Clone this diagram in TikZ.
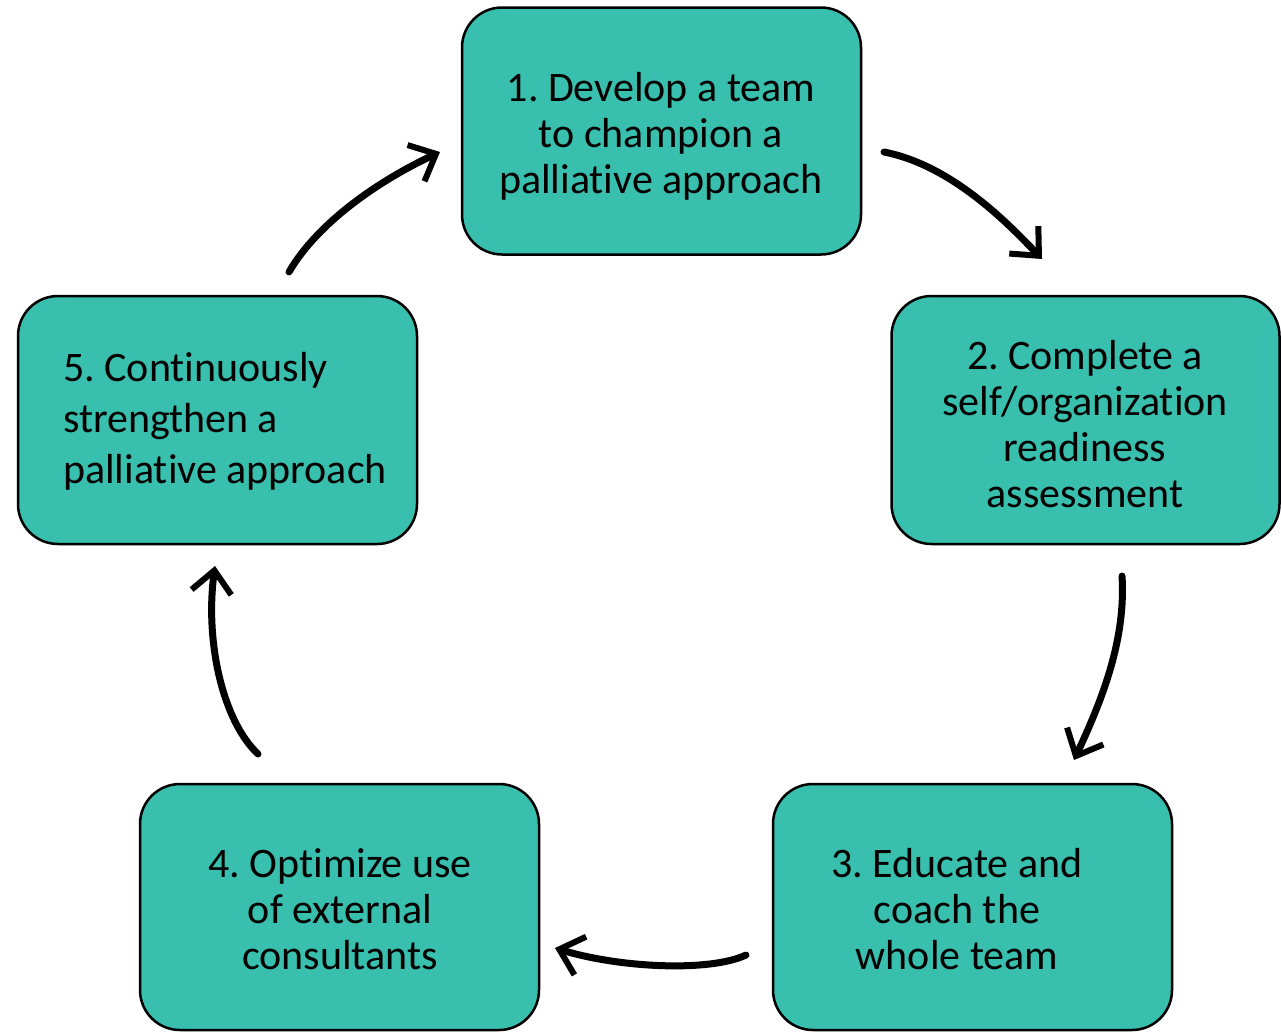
\documentclass[tikz,border=0pt]{standalone}
\usepackage{fontspec}
\setmainfont[Ligatures=NoCommon]{Carlito}
\usetikzlibrary{arrows.meta}
\definecolor{teal1}{RGB}{56,191,174}
\tikzset{
  stagebox/.style={draw=black, line width=2.5pt, fill=teal1, rounded corners=40pt, minimum width=399pt, minimum height=247pt, inner sep=0pt},
  stagetext/.style={font=\fontsize{42}{46}\selectfont, text=black, align=center, inner sep=0pt},
  brush/.style={line width=7pt, line cap=round, -{Straight Barb[length=22pt, width=40pt, line width=6pt]}}
}
\frenchspacing
\begin{document}
\begin{tikzpicture}[x=1pt,y=-1pt]
\useasboundingbox (0,0) rectangle (1281,1031);
\node[stagebox] (b1) at (661.5,131) {};
\node[stagebox, minimum width=388pt, minimum height=248pt] (b2) at (1085.5,420) {};
\node[stagebox, minimum height=246pt] (b3) at (972.5,907) {};
\node[stagebox, minimum height=246pt] (b4) at (339.5,907) {};
\node[stagebox, minimum height=248pt] (b5) at (217.5,420) {};
\node[stagetext] (t1) at (661,136) {1. Develop a team\\to champion a\\palliative approach};
\node[stagetext] (t2) at (1085,424) {2. Complete a\\self/organization\\readiness\\assessment};
\node[stagetext] (t3) at (957,909) {3. Educate and\\coach the\\whole team};
\node[stagetext] (t4) at (340,909) {4. Optimize use\\of external\\consultants};
\node[stagetext, align=left, anchor=west, font=\fontsize{42}{51}\selectfont] (t5) at (63,421) {5. Continuously\\strengthen a\\palliative approach};
\coordinate (a1s) at (884,152); \coordinate (a1e) at (1042,259);
\coordinate (a2s) at (1122,576); \coordinate (a2e) at (1074,760);
\coordinate (a3s) at (746,955); \coordinate (a3e) at (555,948);
\coordinate (a4s) at (258,754); \coordinate (a4e) at (215,566);
\coordinate (a5s) at (289,272); \coordinate (a5e) at (440,152);
\draw[brush] (a1s) .. controls (950,165) and (1005,220) .. (a1e);
\draw[brush] (a2s) .. controls (1126,640) and (1102,700) .. (a2e);
\draw[brush] (a3s) .. controls (710,972) and (620,968) .. (a3e);
\draw[brush] (a4s) .. controls (222,720) and (205,640) .. (a4e);
\draw[brush] (a5s) .. controls (318,222) and (380,180) .. (a5e);
\end{tikzpicture}
\end{document}
